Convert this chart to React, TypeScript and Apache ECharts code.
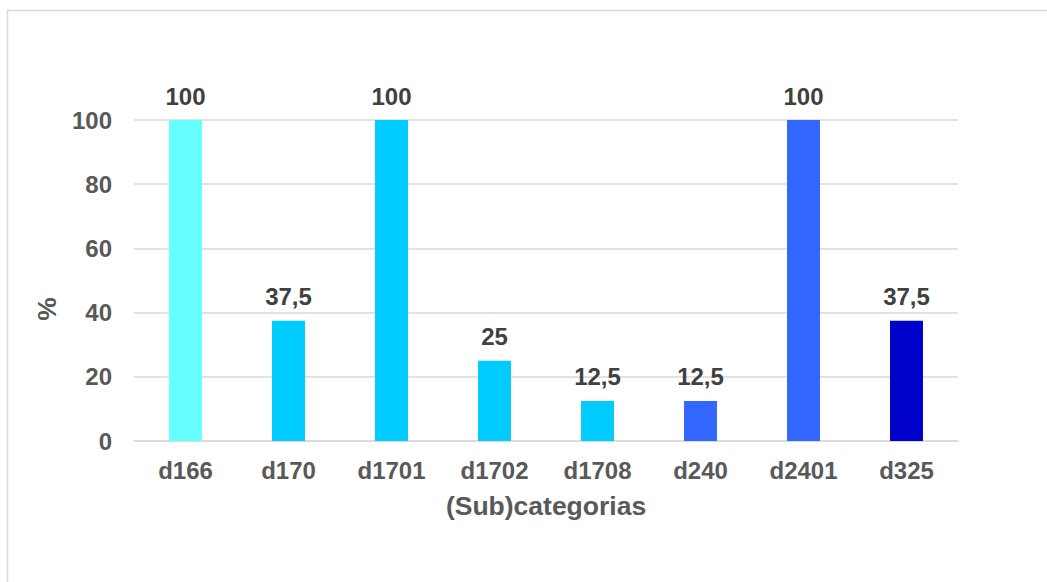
import React, { useEffect, useRef } from "react";
import * as echarts from "echarts";

const categories = ["d166", "d170", "d1701", "d1702", "d1708", "d240", "d2401", "d325"];
const percentages = [100, 37.5, 100, 25, 12.5, 12.5, 100, 37.5];
const barColors = ["#66FFFF", "#00CCFF", "#00CCFF", "#00CCFF", "#00CCFF", "#3366FF", "#3366FF", "#0000CC"];

const FONT = "'Liberation Sans', Arial, sans-serif";

export default function App() {
  const ref = useRef<HTMLDivElement>(null);

  useEffect(() => {
    if (!ref.current) return;
    const chart = echarts.init(ref.current, undefined, { renderer: "svg" });
    chart.setOption({
      animation: false,
      backgroundColor: "#ffffff",
      grid: { left: 134, right: 89, top: 120, bottom: 141, containLabel: false },
      graphic: [
        {
          type: "rect",
          shape: { x: 7.5, y: 10.5, width: 1100, height: 620 },
          style: { fill: "none", stroke: "#d9d9d9", lineWidth: 1.5 },
          silent: true,
        },
        {
          type: "text",
          x: 47,
          y: 309,
          rotation: Math.PI / 2,
          style: {
            text: "%",
            font: `bold 26.5px ${FONT}`,
            fill: "#595959",
            align: "center",
            verticalAlign: "middle",
          },
        },
      ],
      xAxis: {
        type: "category",
        data: categories,
        name: "(Sub)categorias",
        nameLocation: "middle",
        nameGap: 51,
        nameTextStyle: { fontFamily: FONT, fontWeight: "bold", fontSize: 26.5, color: "#595959" },
        axisLine: { show: true, lineStyle: { color: "#d9d9d9", width: 1.5 } },
        axisTick: { show: false },
        axisLabel: { fontFamily: FONT, fontWeight: "bold", fontSize: 24, color: "#595959", margin: 17 },
      },
      yAxis: {
        type: "value",
        min: 0,
        max: 100,
        interval: 20,
        axisLine: { show: false },
        axisTick: { show: false },
        splitLine: { lineStyle: { color: "#d9d9d9", width: 1.5 } },
        axisLabel: { fontFamily: FONT, fontWeight: "bold", fontSize: 24, color: "#595959", margin: 22 },
      },
      series: [
        {
          type: "bar",
          data: percentages.map((v, i) => ({ value: v, itemStyle: { color: barColors[i] } })),
          barWidth: "32%",
          label: {
            show: true,
            position: "top",
            distance: 12,
            fontFamily: FONT,
            fontWeight: "bold",
            fontSize: 24,
            color: "#404040",
            formatter: (p: any) => String(p.value).replace(".", ","),
          },
        },
      ],
    });
    return () => chart.dispose();
  }, []);

  return (
    <div
      ref={ref}
      style={{ position: "fixed", left: 0, top: 0, width: 1047, height: 582 }}
    />
  );
}
